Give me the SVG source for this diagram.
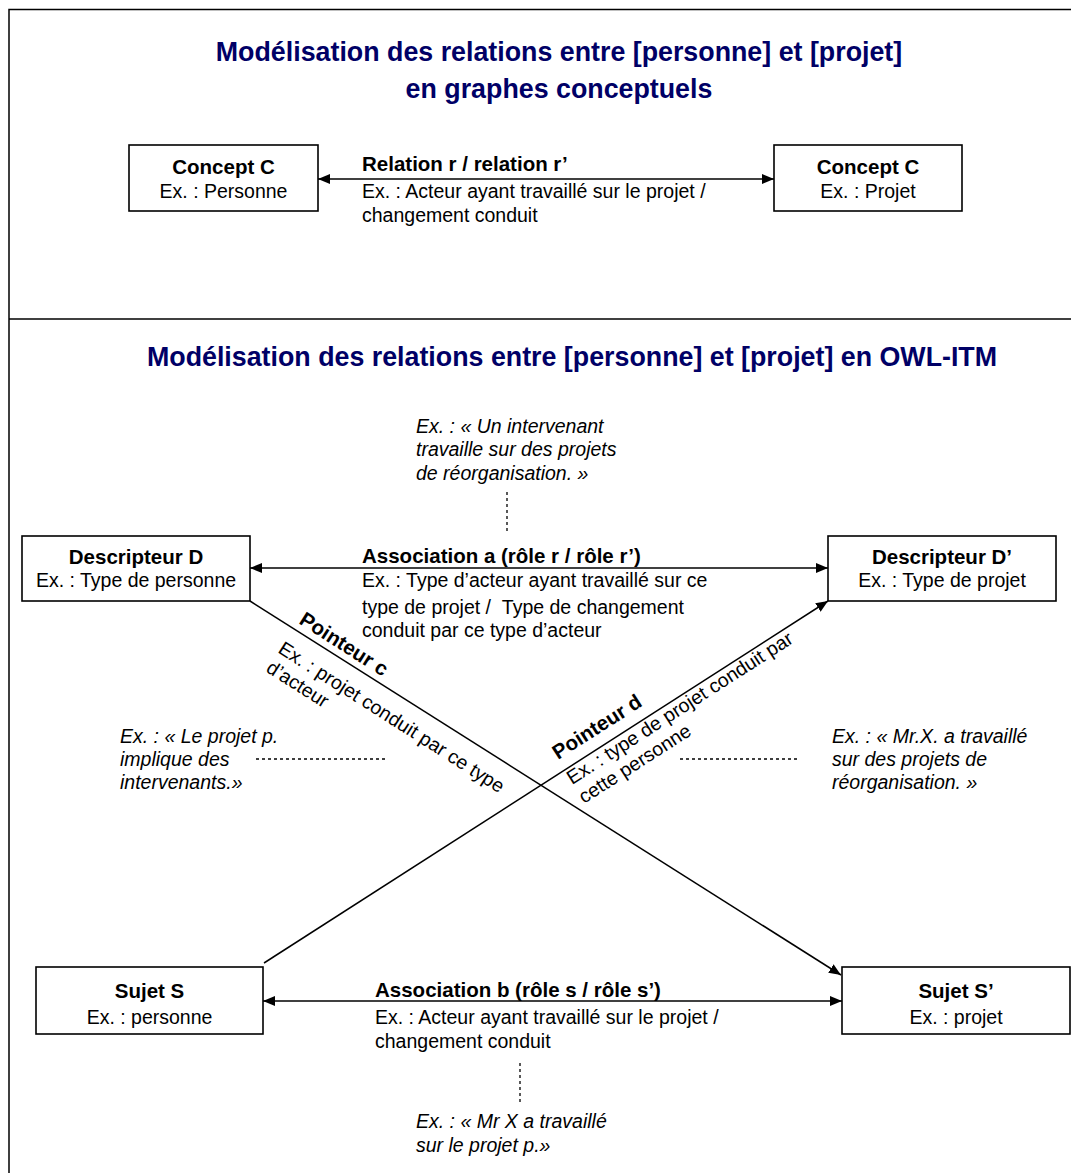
<svg xmlns="http://www.w3.org/2000/svg" width="1071" height="1173" viewBox="0 0 1071 1173">
<defs>
<marker id="ah" viewBox="0 0 12 10" refX="12" refY="5" markerWidth="12" markerHeight="10" markerUnits="userSpaceOnUse" orient="auto-start-reverse">
<path d="M0,0 L12,5 L0,10 Z" fill="#000"/>
</marker>
<style>
text{font-family:"Liberation Sans",Arial,sans-serif;fill:#000}
.t{font-size:26.8px;font-weight:bold;fill:#000066;text-anchor:middle}
.b{font-size:20.5px;font-weight:bold}
.r{font-size:19.5px}
.i{font-size:19.5px;font-style:italic}
.c{text-anchor:middle}
.box{fill:#fff;stroke:#000;stroke-width:1.6}
.ln{stroke:#000;stroke-width:1.5;fill:none}
.dot{stroke:#000;stroke-width:1.3;stroke-dasharray:3,3;fill:none}
</style>
</defs>
<rect width="1071" height="1173" fill="#fff"/>
<g id="frame">
<path d="M9,1173 V9.5 H1071" class="ln" stroke-width="2"/>
<path d="M9,319 H1071" class="ln" stroke-width="2"/>
</g>
<g id="titles">
<text class="t" x="559" y="61">Modélisation des relations entre [personne] et [projet]</text>
<text class="t" x="559" y="98">en graphes conceptuels</text>
<text class="t" x="572" y="366">Modélisation des relations entre [personne] et [projet] en OWL-ITM</text>
</g>
<g id="connectors">
<line class="ln" x1="318" y1="179" x2="774" y2="179" marker-start="url(#ah)" marker-end="url(#ah)"/>
<line class="ln" x1="250" y1="568" x2="828" y2="568" marker-start="url(#ah)" marker-end="url(#ah)"/>
<line class="ln" x1="263" y1="1001" x2="842" y2="1001" marker-start="url(#ah)" marker-end="url(#ah)"/>
<line class="ln" x1="250" y1="601" x2="841" y2="975" marker-end="url(#ah)"/>
<line class="ln" x1="264" y1="963" x2="828" y2="601" marker-end="url(#ah)"/>
<line class="dot" x1="507" y1="492" x2="507" y2="534"/>
<line class="dot" x1="520" y1="1063" x2="520" y2="1102"/>
<line class="dot" x1="256" y1="759" x2="385" y2="759"/>
<line class="dot" x1="680" y1="759" x2="800" y2="759"/>
</g>
<g id="concept-c1">
<rect class="box" x="129" y="145" width="189" height="66"/>
<text class="b c" x="223.5" y="174">Concept C</text>
<text class="r c" x="223.5" y="198">Ex. : Personne</text>
</g>
<g id="concept-c2">
<rect class="box" x="774" y="145" width="188" height="66"/>
<text class="b c" x="868" y="174">Concept C</text>
<text class="r c" x="868" y="198">Ex. : Projet</text>
</g>
<g id="relation-label">
<text class="b" x="362" y="171">Relation r / relation r’</text>
<text class="r" x="362" y="198">Ex. : Acteur ayant travaillé sur le projet /</text>
<text class="r" x="362" y="222">changement conduit</text>
</g>
<g id="descripteur-d">
<rect class="box" x="22" y="536" width="228" height="65"/>
<text class="b c" x="136" y="564">Descripteur D</text>
<text class="r c" x="136" y="587">Ex. : Type de personne</text>
</g>
<g id="descripteur-d2">
<rect class="box" x="828" y="536" width="228" height="65"/>
<text class="b c" x="942" y="564">Descripteur D’</text>
<text class="r c" x="942" y="587">Ex. : Type de projet</text>
</g>
<g id="sujet-s">
<rect class="box" x="36" y="967" width="227" height="67"/>
<text class="b c" x="149.5" y="998">Sujet S</text>
<text class="r c" x="149.5" y="1024">Ex. : personne</text>
</g>
<g id="sujet-s2">
<rect class="box" x="842" y="967" width="228" height="67"/>
<text class="b c" x="956" y="998">Sujet S’</text>
<text class="r c" x="956" y="1024">Ex. : projet</text>
</g>
<g id="association-a">
<text class="b" x="362" y="563">Association a (rôle r / rôle r’)</text>
<text class="r" x="362" y="587">Ex. : Type d’acteur ayant travaillé sur ce</text>
<text class="r" x="362" y="614">type de projet / &#160;Type de changement</text>
<text class="r" x="362" y="637">conduit par ce type d’acteur</text>
</g>
<g id="association-b">
<text class="b" x="375" y="997">Association b (rôle s / rôle s’)</text>
<text class="r" x="375" y="1024">Ex. : Acteur ayant travaillé sur le projet /</text>
<text class="r" x="375" y="1048">changement conduit</text>
</g>
<g id="pointeur-c">
<text class="b" transform="translate(298,623) rotate(32.5)">Pointeur c</text>
<text class="r" transform="translate(277,652) rotate(32.5)">Ex. : projet conduit par ce type</text>
<text class="r" transform="translate(265,671) rotate(32.5)">d’acteur</text>
</g>
<g id="pointeur-d">
<text class="b" transform="translate(558,760) rotate(-32.7)">Pointeur d</text>
<text class="r" transform="translate(572,785) rotate(-32.7)">Ex. : type de projet conduit par</text>
<text class="r" transform="translate(584,804) rotate(-32.7)">cette personne</text>
</g>
<g id="example-top">
<text class="i" x="416" y="433">Ex. : « Un intervenant</text>
<text class="i" x="416" y="456">travaille sur des projets</text>
<text class="i" x="416" y="480">de réorganisation. »</text>
</g>
<g id="example-left">
<text class="i" x="120" y="743">Ex. : « Le projet p.</text>
<text class="i" x="120" y="766">implique des</text>
<text class="i" x="120" y="789">intervenants.»</text>
</g>
<g id="example-right">
<text class="i" x="832" y="743">Ex. : « Mr.X. a travaillé</text>
<text class="i" x="832" y="766">sur des projets de</text>
<text class="i" x="832" y="789">réorganisation. »</text>
</g>
<g id="example-bottom">
<text class="i" x="416" y="1128">Ex. : « Mr X a travaillé</text>
<text class="i" x="416" y="1152">sur le projet p.»</text>
</g>
</svg>
